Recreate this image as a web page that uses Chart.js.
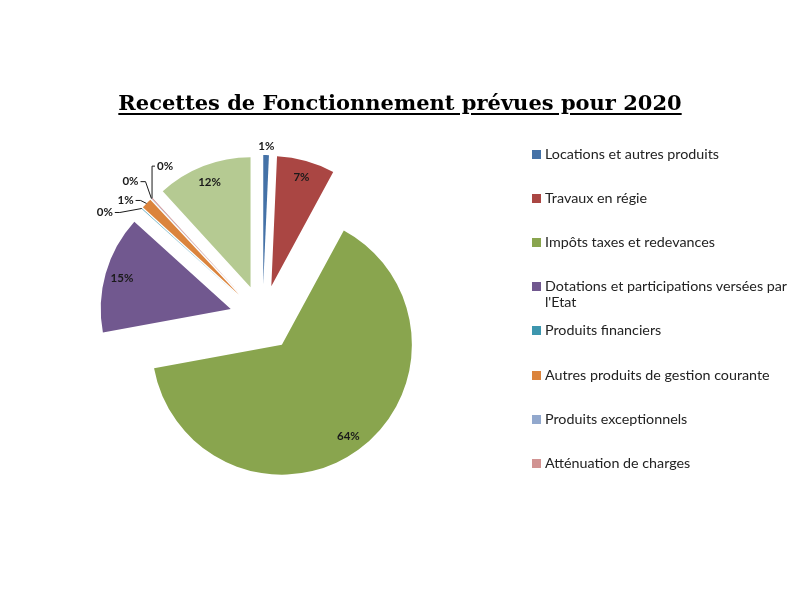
<!DOCTYPE html>
<html lang="fr">
<head>
<meta charset="utf-8">
<script src="https://cdn.jsdelivr.net/npm/chart.js@4.4.1/dist/chart.umd.min.js"></script>
<style>
  body { margin: 0; background: #fff; }
  #wrap { position: relative; width: 800px; height: 600px; }
  #title {
    position: absolute; left: 0; top: 90px; width: 800px; text-align: center;
    font-family: "DejaVu Serif"; font-weight: bold; font-size: 21px; color: #000;
    text-decoration: underline; text-decoration-thickness: 2px; text-underline-offset: 3px;
  }
  #legend { position: absolute; left: 532px; top: 0; margin: 0; padding: 0; list-style: none;
    font-family: Lato; font-size: 14.3px; line-height: 16px; color: #222; }
  #legend li { position: absolute; left: 0; width: 268px; display: flex; }
  #legend .box { flex: none; width: 9px; height: 9px; margin: 4px 4px 0 0; }
  #legend .txt { width: 254px; }
</style>
</head>
<body>
<div id="wrap">
  <canvas id="myPieChart" width="800" height="600"></canvas>
  <div id="title">Recettes de Fonctionnement prévues pour 2020</div>
  <ul id="legend"></ul>
</div>
<script>
// parts of the budget, in %
const categories = [
  "Locations et autres produits",
  "Travaux en régie",
  "Impôts taxes et redevances",
  "Dotations et participations versées par l'Etat",
  "Produits financiers",
  "Autres produits de gestion courante",
  "Produits exceptionnels",
  "Atténuation de charges",
  "Excédent reporté"
];
const shares = [0.7, 7.2, 64.2, 14.6, 0.05, 1.3, 0.05, 0.1, 11.8];
const sliceColors = ["#4572A7", "#AA4643", "#89A54E", "#71588F", "#3D96AE", "#DB843D", "#92A8CD", "#D19392", "#B5CA92"];
const legendCount = 8;

// where each percentage goes: inside, just outside, or pulled out with a leader line
const labelPlacement = ["out", "in", "in", "in", [-37, 4], [-21, -3], [-21, -17], [13, -32], "in"];

const total = shares.reduce((a, b) => a + b, 0);

// every slice pulled out from the centre, like an exploded excel pie
// (chart.js own "offset" trims thin slices, so the arcs are just moved here)
const explode = 33;

const explodePie = {
  id: "explodePie",
  beforeDatasetDraw(chart, args) {
    const ctx = chart.ctx;
    args.meta.data.forEach((arc) => {
      const mid = (arc.startAngle + arc.endAngle) / 2;
      ctx.save();
      ctx.translate(Math.cos(mid) * explode, Math.sin(mid) * explode);
      arc.draw(ctx);
      ctx.restore();
    });
    return false;
  }
};

const pieLabels = {
  id: "pieLabels",
  afterDatasetsDraw(chart) {
    const ctx = chart.ctx;
    const meta = chart.getDatasetMeta(0);
    ctx.save();
    ctx.font = "bold 11.5px Lato";
    ctx.fillStyle = "#1a1a1a";
    ctx.strokeStyle = "#1a1a1a";
    ctx.lineWidth = 1;
    ctx.textBaseline = "middle";
    meta.data.forEach((arc, i) => {
      const p = arc.getProps(["x", "y", "startAngle", "endAngle", "outerRadius"], true);
      const mid = (p.startAngle + p.endAngle) / 2;
      const ax = p.x + Math.cos(mid) * explode;
      const ay = p.y + Math.sin(mid) * explode;
      const txt = Math.round(shares[i] / total * 100) + "%";
      const place = labelPlacement[i];
      if (place === "in") {
        const r = p.outerRadius * 0.87;
        ctx.textAlign = "center";
        ctx.fillText(txt, ax + Math.cos(mid) * r, ay + Math.sin(mid) * r);
      } else if (place === "out") {
        const r = p.outerRadius + 9;
        ctx.textAlign = "center";
        ctx.fillText(txt, ax + Math.cos(mid) * r, ay + Math.sin(mid) * r);
      } else {
        const ex = ax + Math.cos(mid) * p.outerRadius;
        const ey = ay + Math.sin(mid) * p.outerRadius;
        const tx = ex + place[0];
        const ty = ey + place[1];
        const w = ctx.measureText(txt).width;
        const side = place[0] < 0 ? 1 : -1;
        const sx = tx + side * (w / 2 + 2);
        ctx.textAlign = "center";
        ctx.fillText(txt, tx, ty);
        ctx.beginPath();
        ctx.moveTo(sx, ty);
        let kx = sx + side * 5;
        if (side < 0) kx = ex;
        ctx.lineTo(kx, ty);
        ctx.lineTo(ex, ey);
        ctx.stroke();
      }
    });
    ctx.restore();
  }
};

const pieChart = document.getElementById("myPieChart").getContext("2d");
const myChart1 = new Chart(pieChart, {
  type: "pie",
  data: {
    labels: categories,
    datasets: [
      {
        data: shares,
        backgroundColor: sliceColors,
        borderWidth: 0
      }
    ]
  },
  options: {
    responsive: false,
    animation: false,
    radius: 130,
    layout: {
      padding: { left: 100, right: 375, top: 160, bottom: 124 }
    },
    plugins: {
      legend: { display: false },
      title: { display: false },
      tooltip: { enabled: false }
    }
  },
  plugins: [explodePie, pieLabels]
});

// legend on the right, one line every 44px
const legend = document.getElementById("legend");
for (let i = 0; i < legendCount; i++) {
  const li = document.createElement("li");
  li.style.top = (146 + i * 44.1) + "px";
  const box = document.createElement("span");
  box.className = "box";
  box.style.background = sliceColors[i];
  const txt = document.createElement("span");
  txt.className = "txt";
  txt.textContent = categories[i];
  li.appendChild(box);
  li.appendChild(txt);
  legend.appendChild(li);
}
</script>
</body>
</html>
